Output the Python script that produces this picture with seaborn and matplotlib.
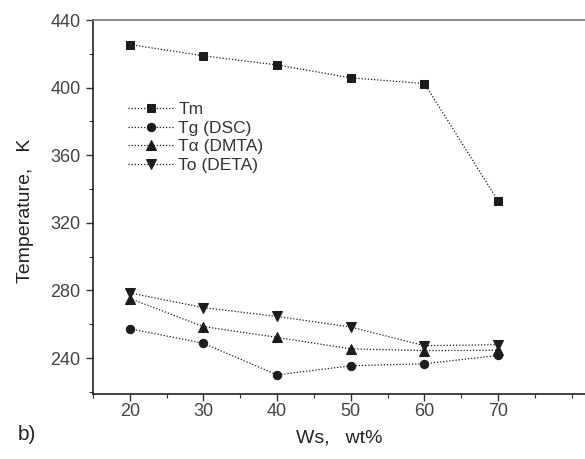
import numpy as np
import pandas as pd
import seaborn as sns
import matplotlib.pyplot as plt
from matplotlib.ticker import MultipleLocator

# Data
ws = [20, 30, 40, 50, 60, 70]
tm = [425.5, 418.8, 413.4, 405.8, 402.4, 333.0]
tg_dsc = [257.3, 248.7, 230.0, 235.4, 236.6, 241.5]
ta_dmta = [275.2, 258.6, 252.2, 245.4, 244.4, 244.6]
to_deta = [278.5, 269.8, 264.6, 258.3, 247.3, 247.9]

labels = ['Tm', 'Tg (DSC)', 'T\u03b1 (DMTA)', 'To (DETA)']
markers = ['s', 'o', '^', 'v']
msizes = [5.5, 6, 6.5, 6.5]

df = pd.DataFrame({'ws': ws * 4,
                   'temp': tm + tg_dsc + ta_dmta + to_deta,
                   'series': np.repeat(labels, len(ws))})

sns.set_style('ticks')
plt.rcParams['font.family'] = ['Liberation Sans', 'DejaVu Sans']

fig = plt.figure(figsize=(5.85, 4.59), dpi=100)
ax = fig.add_axes([93 / 585, 1 - 394 / 459, 1 - 93 / 585, 374 / 459])

ink = '#1c1c1c'
for lab, m, ms in zip(labels, markers, msizes):
    sub = df[df['series'] == lab]
    sns.lineplot(data=sub, x='ws', y='temp', ax=ax, marker=m, markersize=ms,
                 color=ink, linestyle=(0, (1, 1.5)), linewidth=0.9,
                 markeredgecolor=ink, label=lab)

ax.set_xlim(15, 81.8)
ax.set_ylim(218.7, 440)
ax.xaxis.set_minor_locator(MultipleLocator(5))
ax.yaxis.set_minor_locator(MultipleLocator(20))
ax.set_xticks([20, 30, 40, 50, 60, 70])
ax.set_yticks([240, 280, 320, 360, 400, 440])

ax.tick_params(axis='x', which='major', pad=1.5)
ax.tick_params(axis='y', which='major', pad=4)
ax.tick_params(which='major', length=5, width=1, colors='#333333', labelsize=13,
               labelcolor='#444444')
ax.tick_params(which='minor', length=3, width=0.8, colors='#333333')

ax.spines['right'].set_visible(False)
ax.spines['left'].set_color('#222222')
ax.spines['bottom'].set_color('#222222')
ax.spines['top'].set_color('#777777')
for s in ax.spines.values():
    s.set_linewidth(1.2)

ax.set_xlabel('Ws,   wt%', fontsize=14, color='#222222')
ax.set_ylabel('Temperature,   K', fontsize=14, color='#222222')
ax.xaxis.set_label_coords(0.5, -0.096)
ax.yaxis.set_label_coords(-0.12, 0.49)

leg = ax.legend(loc='upper left', bbox_to_anchor=(0.071, 0.781), frameon=False,
                borderpad=0, borderaxespad=0, fontsize=12.5, handlelength=2.6,
                labelspacing=0.2, handletextpad=0.3)
for t in leg.get_texts():
    t.set_color('#333333')

fig.text(27 / 585, 1 - 435 / 459, 'b)', fontsize=15, color='#222222',
         ha='center', va='center')

fig.savefig('out.png', dpi=100)
